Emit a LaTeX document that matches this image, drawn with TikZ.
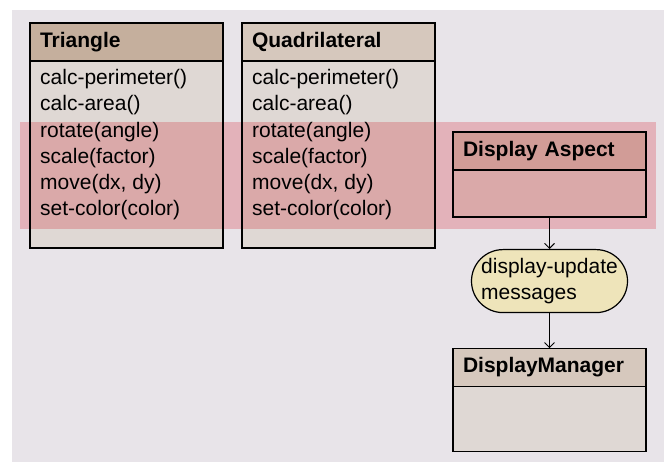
\documentclass[tikz,border=0pt]{standalone}
\usepackage{fontspec}
\setmainfont{Liberation Sans}
\usetikzlibrary{positioning,arrows.meta}
\definecolor{pagebg}{RGB}{232,228,233}
\definecolor{headdark}{RGB}{197,175,157}
\definecolor{headlight}{RGB}{214,200,189}
\definecolor{bodyfill}{RGB}{223,216,212}
\definecolor{bandpink}{RGB}{250,200,204}
\definecolor{msgfill}{RGB}{238,228,186}

\begin{document}
\begin{tikzpicture}[x=1pt,y=-1pt,
    classhead/.style={draw,line width=1.2pt,fill=headlight,outer sep=0pt,inner xsep=10pt,text width=173pt,minimum height=38pt,align=left,font=\bfseries\fontsize{21}{26}\selectfont},
    classbody/.style={draw,line width=1.2pt,fill=bodyfill,outer sep=0pt,minimum width=193pt},
    ops/.style={align=left,inner sep=0pt,font=\fontsize{21}{26.3}\selectfont},
    msgbox/.style={draw,line width=1.2pt,fill=msgfill,rounded corners=31.5pt,minimum width=156pt,minimum height=63pt,align=left,inner sep=0pt,font=\fontsize{21}{26}\selectfont},
    link/.style={-{Straight Barb[length=5pt,width=10pt]},line width=0.9pt}]
  \useasboundingbox (0,0) rectangle (664,462);
  \fill[pagebg] (12,10) rectangle (664,462);

  % shape classes
  \node[classhead,fill=headdark,anchor=north west] (tri-head) at (30,23) {Triangle};
  \node[classbody,minimum height=187pt,below=0pt of tri-head] (tri-body) {};
  \node[ops,below right=8pt and 10pt of tri-body.north west] (tri-ops)
    {calc-perimeter()\\calc-area()\\rotate(angle)\\scale(factor)\\move(dx, dy)\\set-color(color)};

  \node[classhead,anchor=north west] (quad-head) at (242,23) {Quadrilateral};
  \node[classbody,minimum height=187pt,below=0pt of quad-head] (quad-body) {};
  \node[ops,below right=8pt and 10pt of quad-body.north west] (quad-ops)
    {calc-perimeter()\\calc-area()\\rotate(angle)\\scale(factor)\\move(dx, dy)\\set-color(color)};

  % display side
  \node[classhead,anchor=north west] (asp-head) at (453,132) {Display Aspect};
  \node[classbody,minimum height=47pt,below=0pt of asp-head] (asp-body) {};
  \node[msgbox,below=32pt of asp-body] (msg) {display-update\\messages};
  \node[classhead,below=35pt of msg] (mgr-head) {DisplayManager};
  \node[classbody,minimum height=65pt,below=0pt of mgr-head] (mgr-body) {};

  \draw[link] (asp-body) -- (msg);
  \draw[link] (msg) -- (mgr-head);

  % the aspect band
  \begin{scope}[blend mode=multiply]
    \fill[bandpink] (20,122) rectangle (656,229);
  \end{scope}
\end{tikzpicture}
\end{document}
